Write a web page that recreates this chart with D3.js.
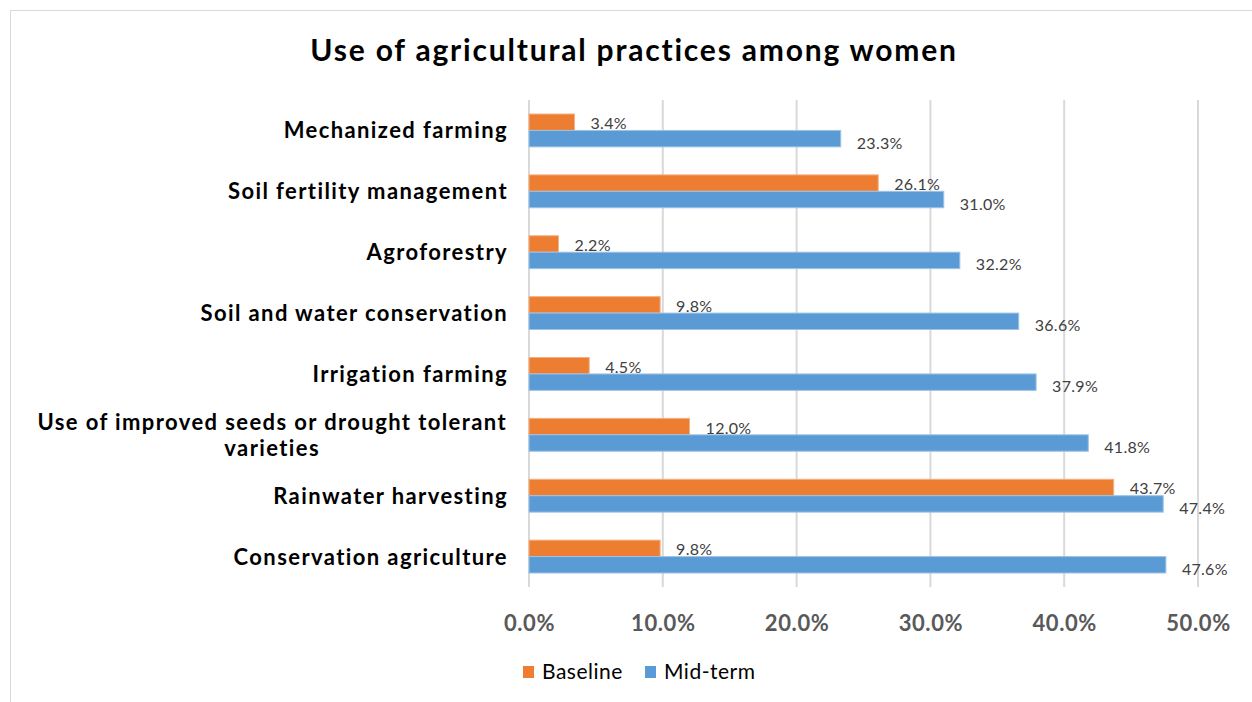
<!DOCTYPE html>
<html>
<head>
<meta charset="utf-8">
<script src="https://cdn.jsdelivr.net/npm/d3@7"></script>
<style>
  body { margin: 0; background: #fff; }
  svg { display: block; font-family: Lato, "Open Sans", sans-serif; }
</style>
</head>
<body>
<svg id="chart" width="1252" height="702"></svg>
<script>
// chart data
var categories = [
  "Mechanized farming",
  "Soil fertility management",
  "Agroforestry",
  "Soil and water conservation",
  "Irrigation farming",
  "Use of improved seeds or drought tolerant varieties",
  "Rainwater harvesting",
  "Conservation agriculture"
];
var baseline = [3.4, 26.1, 2.2, 9.8, 4.5, 12.0, 43.7, 9.8];
var midterm = [23.3, 31.0, 32.2, 36.6, 37.9, 41.8, 47.4, 47.6];
var seriesNames = ["Baseline", "Mid-term"];
var xTicks = [0, 10, 20, 30, 40, 50];

var colors = ["#ED7D31", "#5B9BD5"];

var width = 1252, height = 702;
var margin = {top: 100, right: 54, bottom: 115, left: 529};

var svg = d3.select("#chart");

// outer frame
svg.append("rect")
  .attr("x", 10.5).attr("y", 10.5)
  .attr("width", 1250).attr("height", 700)
  .attr("fill", "none").attr("stroke", "#d9d9d9");

svg.append("text")
  .attr("x", 634).attr("y", 61)
  .attr("text-anchor", "middle")
  .attr("font-size", 30).attr("font-weight", "bold")
  .attr("letter-spacing", 1.8)
  .attr("fill", "#000")
  .text("Use of agricultural practices among women");

var x = d3.scaleLinear().domain([0, 50]).range([margin.left, width - margin.right]);
var y = d3.scaleBand().domain(categories).range([margin.top, height - margin.bottom]).paddingInner(0.46).paddingOuter(0.23);
var ySub = d3.scaleBand().domain(seriesNames).range([0, y.bandwidth()]);

// gridlines
svg.append("g").selectAll("line")
  .data(xTicks).enter().append("line")
  .attr("x1", d => x(d)).attr("x2", d => x(d))
  .attr("y1", margin.top).attr("y2", height - margin.bottom)
  .attr("stroke", "#d9d9d9").attr("stroke-width", 2);

// x axis labels
var xAxis = d3.axisBottom(x).tickValues(xTicks).tickSize(0).tickPadding(0)
  .tickFormat(d => d.toFixed(1) + "%");
var gx = svg.append("g").attr("transform", "translate(0," + (height - margin.bottom + 28) + ")").call(xAxis);
gx.select(".domain").remove();
gx.selectAll("text")
  .attr("font-size", 22).attr("font-weight", "bold").attr("letter-spacing", 0.6)
  .attr("fill", "#595959").attr("font-family", "Lato, sans-serif");

// category labels
var rows = svg.append("g").selectAll("g.row")
  .data(categories).enter().append("g")
  .attr("class", "row")
  .attr("transform", d => "translate(0," + y(d) + ")");

rows.each(function(d) {
  var g = d3.select(this);
  var cy = y.bandwidth() / 2;
  if (d.indexOf("drought") >= 0) {
    var lines = ["Use of improved seeds or drought tolerant", "varieties"];
    var t = g.append("text")
      .attr("font-size", 22).attr("font-weight", "bold").attr("fill", "#000")
      .attr("letter-spacing", 1.4)
      .attr("text-anchor", "middle");
    var tmp = t.append("tspan").text(lines[0]);
    var w = tmp.node().getComputedTextLength();
    tmp.remove();
    var cx = 507 - w / 2;
    lines.forEach(function(l, i) {
      t.append("tspan").attr("x", cx).attr("y", cy + (i - 0.5) * 26 + 8).text(l);
    });
  } else {
    g.append("text")
      .attr("x", 508).attr("y", cy + 8)
      .attr("text-anchor", "end")
      .attr("font-size", 22).attr("font-weight", "bold").attr("fill", "#000")
      .attr("letter-spacing", 1.4)
      .text(d);
  }
});

// bars
var seriesData = [baseline, midterm];
seriesData.forEach(function(vals, si) {
  var name = seriesNames[si];
  svg.append("g").selectAll("rect")
    .data(vals).enter().append("rect")
    .attr("x", x(0))
    .attr("y", (d, i) => y(categories[i]) + ySub(name))
    .attr("width", d => x(d) - x(0))
    .attr("height", ySub.bandwidth())
    .attr("fill", colors[si])
    .attr("stroke", si === 0 ? "#f4b183" : "#9dc3e6").attr("stroke-width", 1);

  svg.append("g").selectAll("text")
    .data(vals).enter().append("text")
    .attr("x", d => x(d) + 16)
    .attr("y", (d, i) => y(categories[i]) + ySub(name) + ySub.bandwidth() / 2 + (si === 0 ? 2 : 5) + 5)
    .attr("font-size", 16).attr("letter-spacing", 0.3).attr("fill", "#404040")
    .text(d => d.toFixed(1) + "%");
});

// legend
var legend = svg.append("g").attr("transform", "translate(523,666)");
seriesNames.forEach(function(n, i) {
  var lg = legend.append("g").attr("transform", "translate(" + (i * 122) + ",0)");
  lg.append("rect").attr("width", 11).attr("height", 12).attr("fill", colors[i]);
  lg.append("text").attr("x", 19).attr("y", 13).attr("font-size", 21).attr("letter-spacing", 0.5)
    .attr("fill", "#000").text(n);
});
</script>
</body>
</html>
